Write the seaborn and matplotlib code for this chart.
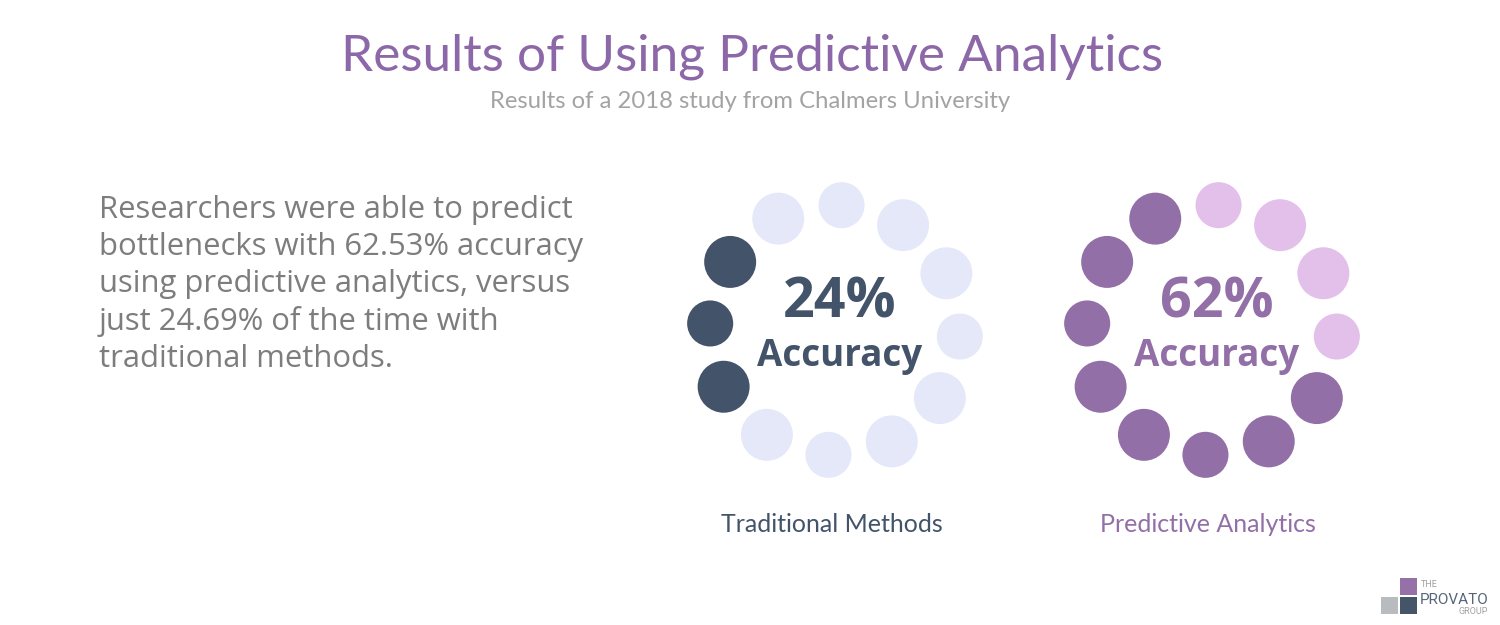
import numpy as np
import pandas as pd
import matplotlib
matplotlib.use("Agg")
import matplotlib.pyplot as plt
import seaborn as sns
from matplotlib.patches import Rectangle

# ---------------- data ----------------
title = "Results of Using Predictive Analytics"
subtitle = "Results of a 2018 study from Chalmers University"
body_lines = [
    "Researchers were able to predict",
    "bottlenecks with 62.53% accuracy",
    "using predictive analytics, versus",
    "just 24.69% of the time with",
    "traditional methods.",
]
methods = ["Traditional Methods", "Predictive Analytics"]
pct_labels = ["24%", "62%"]
dots_filled = [3, 8]          # dots filled out of 12
dots_total = 12
fill_start = [8, 4]           # index of first filled dot (clockwise from top)

# ---------------- style ----------------
sns.set_theme(style="white")
plt.rcParams["font.family"] = ["Open Sans", "DejaVu Sans"]

NAVY = "#435369"
NAVY_LIGHT = "#e5e8f9"
PURPLE = "#926fa6"
PURPLE_LIGHT = "#e2c0ea"
GREY_TXT = "#7d7d7d"

fig = plt.figure(figsize=(15, 6.25), dpi=100)
ax = fig.add_axes([0, 0, 1, 1])

# build dot table
centers_x = [835, 1212]
center_y = 330
ring_r = 125
rows = []
for m, (meth, nfill, start, cx) in enumerate(zip(methods, dots_filled, fill_start, centers_x)):
    for k in range(dots_total):
        ang = np.deg2rad(87 - 30 * k)
        filled = ((k - start) % dots_total) < nfill
        rows.append({
            "method": meth,
            "x": cx + ring_r * np.cos(ang),
            "y": center_y - ring_r * np.sin(ang),
            "state": f"{m}-{'on' if filled else 'off'}",
            "size": "small" if k % 3 == 0 else "large",
        })
dots = pd.DataFrame(rows)
palette = {"0-on": NAVY, "0-off": NAVY_LIGHT, "1-on": PURPLE, "1-off": PURPLE_LIGHT}
sns.scatterplot(data=dots, x="x", y="y", hue="state", palette=palette,
                size="size", sizes={"small": 1100, "large": 1400},
                linewidth=0, legend=False, ax=ax)
ax.set_xlim(0, 1500)
ax.set_ylim(625, 0)
ax.axis("off")

# title & subtitle
ax.text(752, 70, title, ha="center", va="baseline", fontsize=37,
        color="#8d68a8", family=["Lato", "DejaVu Sans"])
ax.text(750, 108, subtitle, ha="center", va="baseline", fontsize=17.2,
        color="#a3a3a3", family=["Lato", "DejaVu Sans"])

# body
for i, line in enumerate(body_lines):
    ax.text(99, 218 + i * 37.2, line, ha="left", va="baseline", fontsize=22.3,
            color=GREY_TXT)

# ring centre labels
for cx, pct, col in zip(centers_x, pct_labels, [NAVY, PURPLE]):
    ax.text(cx + 5, 317, pct, ha="center", va="baseline", fontsize=40,
            fontweight="bold", color=col)
    ax.text(cx + 5, 366, "Accuracy", ha="center", va="baseline", fontsize=26.5,
            fontweight="bold", color=col)

# method labels
for cx, meth, col in zip([832, 1208], methods, [NAVY, PURPLE]):
    ax.text(cx, 532, meth, ha="center", va="baseline", fontsize=18,
            color=col, family=["Lato", "DejaVu Sans"])

# logo
ax.add_patch(Rectangle((1400, 578), 17, 17, color="#9571a8", lw=0))
ax.add_patch(Rectangle((1400, 597), 17, 17, color="#445469", lw=0))
ax.add_patch(Rectangle((1381, 597), 17, 17, color="#b8bcbf", lw=0))
ax.text(1421, 587, "THE", fontsize=6.5, color="#a0a0a0", va="baseline",
        family=["Roboto", "DejaVu Sans"])
ax.text(1420, 604, "PROVATO", fontsize=11, color="#56657a", va="baseline",
        family=["Roboto", "DejaVu Sans"])
ax.text(1488, 614, "GROUP", fontsize=6.5, color="#a0a0a0", va="baseline", ha="right",
        family=["Roboto", "DejaVu Sans"])

fig.savefig("out.png", dpi=100, facecolor="white")
